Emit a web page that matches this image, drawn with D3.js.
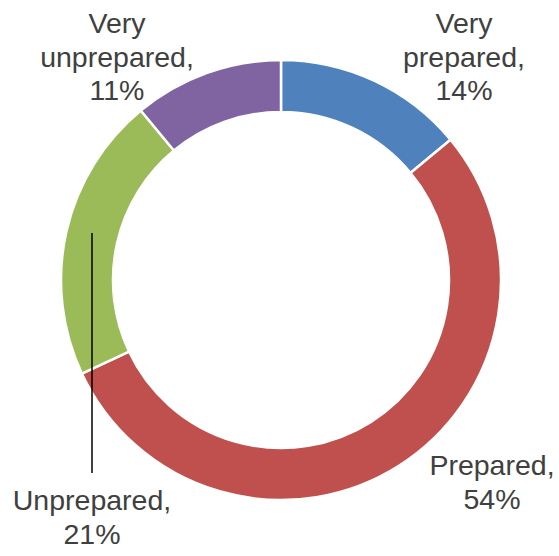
<!DOCTYPE html>
<html>
<head>
<meta charset="utf-8">
<script src="https://cdn.jsdelivr.net/npm/d3@7"></script>
<style>
  html, body { margin: 0; padding: 0; background: #fff; }
  svg { display: block; }
</style>
</head>
<body>
<svg id="chart" width="559" height="556"></svg>
<script>
// Survey responses: how prepared respondents feel
const categories = ["Very prepared", "Prepared", "Unprepared", "Very unprepared"];
const values = [14, 54, 21, 11];
const colors = ["#4F81BD", "#C0504D", "#9BBB59", "#8064A2"];
// Label text lines per slice
const labelLines = [
  ["Very", "prepared,", "14%"],
  ["Prepared,", "54%"],
  ["Unprepared,", "21%"],
  ["Very", "unprepared,", "11%"]
];

const svg = d3.select("#chart");
const cx = 281, cy = 280;
const outerR = 220, innerR = 168;

const pie = d3.pie().sort(null).value(d => d.value);
const arc = d3.arc().innerRadius(innerR).outerRadius(outerR);

const data = categories.map((c, i) => ({ name: c, value: values[i], color: colors[i], lines: labelLines[i] }));
const arcs = pie(data);

const g = svg.append("g").attr("transform", `translate(${cx},${cy})`);

g.selectAll("path.slice")
  .data(arcs)
  .enter().append("path")
  .attr("class", "slice")
  .attr("d", arc)
  .attr("fill", d => d.data.color)
  .attr("stroke", "#fff")
  .attr("stroke-width", 2.5)
  .attr("stroke-linejoin", "miter");

// Label anchor positions (centre of text block, first baseline) and line spacing
const labelPos = [
  { x: 464, y: 33 },
  { x: 492, y: 475 },
  { x: 92, y: 510 },
  { x: 117, y: 33 }
];
const lineH = 33.5;

// Leader line for the "Unprepared" label, pointing into its slice
const leaderX = 92;
svg.append("line")
  .attr("x1", leaderX).attr("x2", leaderX)
  .attr("y1", 233).attr("y2", 473)
  .attr("stroke", "#000")
  .attr("stroke-width", 1.5);

const labels = svg.selectAll("text.lbl")
  .data(arcs)
  .enter().append("text")
  .attr("class", "lbl")
  .attr("text-anchor", "middle")
  .attr("font-family", "Liberation Sans, Arial, sans-serif")
  .attr("font-size", 28.5)
  .attr("fill", "#404040");

labels.each(function(d, i) {
  const t = d3.select(this);
  d.data.lines.forEach((line, j) => {
    t.append("tspan")
      .attr("x", labelPos[i].x)
      .attr("y", labelPos[i].y + j * lineH)
      .text(line);
  });
});
</script>
</body>
</html>
